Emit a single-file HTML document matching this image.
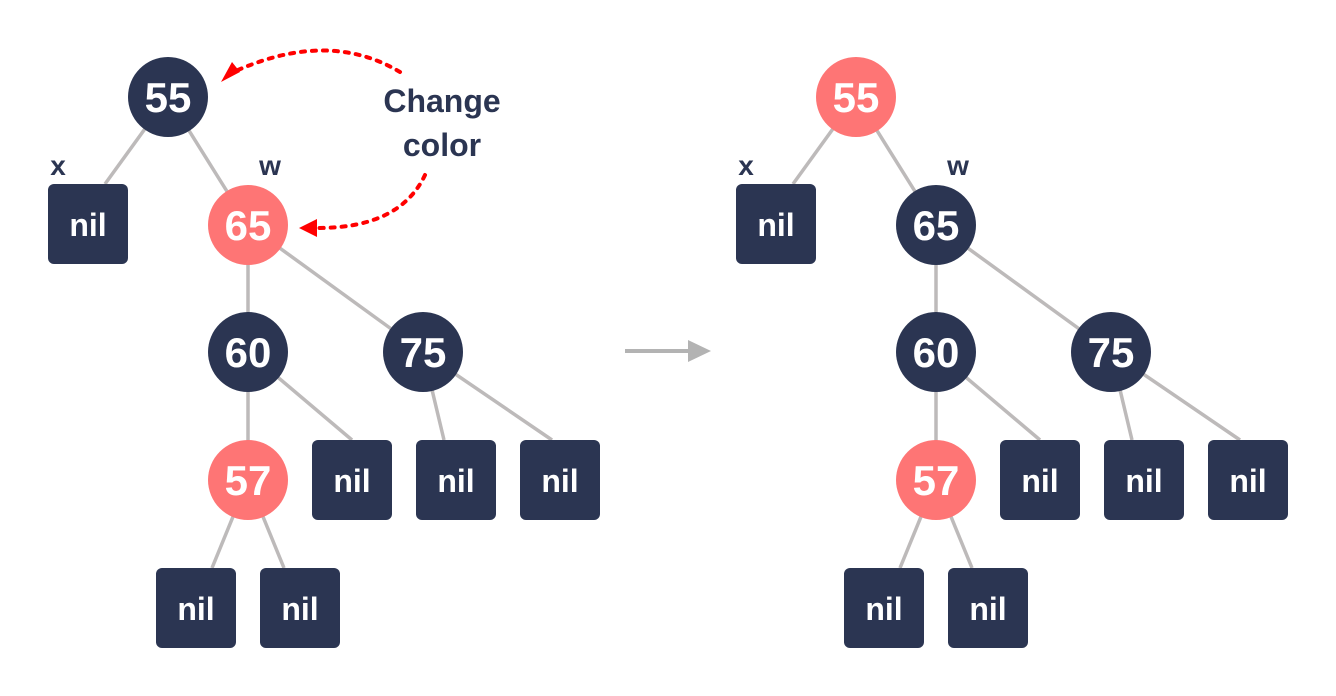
<!DOCTYPE html>
<html><head><style>body{margin:0;background:#fff}svg{display:block}</style></head><body>
<svg width="1336" height="696" viewBox="0 0 1336 696" xmlns="http://www.w3.org/2000/svg" font-family="'Liberation Sans',sans-serif" font-weight="bold">
<defs>
<g id="tree">
<g stroke="#bdbaba" stroke-width="3.5" fill="none">
<line x1="168" y1="97" x2="105" y2="184"/>
<line x1="168" y1="97" x2="248" y2="225"/>
<line x1="248" y1="225" x2="248" y2="352"/>
<line x1="248" y1="225" x2="423" y2="352"/>
<line x1="248" y1="352" x2="248" y2="480"/>
<line x1="248" y1="352" x2="352" y2="440"/>
<line x1="423" y1="352" x2="444" y2="440"/>
<line x1="423" y1="352" x2="552" y2="440"/>
<line x1="248" y1="480" x2="212" y2="568"/>
<line x1="248" y1="480" x2="284" y2="568"/>
</g>
<g fill="#2b3552">
<rect x="48" y="184" width="80" height="80" rx="6"/>
<rect x="312" y="440" width="80" height="80" rx="6"/>
<rect x="416" y="440" width="80" height="80" rx="6"/>
<rect x="520" y="440" width="80" height="80" rx="6"/>
<rect x="156" y="568" width="80" height="80" rx="6"/>
<rect x="260" y="568" width="80" height="80" rx="6"/>
<circle cx="248" cy="352" r="40"/>
<circle cx="423" cy="352" r="40"/>
</g>
<circle cx="248" cy="480" r="40" fill="#fe7575"/>
<g fill="#fff" font-size="32" text-anchor="middle">
<text x="88" y="236">nil</text><text x="352" y="492">nil</text><text x="456" y="492">nil</text><text x="560" y="492">nil</text><text x="196" y="620">nil</text><text x="300" y="620">nil</text>
</g>
<g fill="#fff" font-size="42" text-anchor="middle">
<text x="248" y="367">60</text><text x="423" y="367">75</text><text x="248" y="495">57</text>
</g>
<g fill="#2b3552" font-size="28" text-anchor="middle">
<text x="58" y="175">x</text><text x="270" y="175">w</text>
</g>
</g>
</defs>
<use href="#tree"/>
<circle cx="168" cy="97" r="40" fill="#2b3552"/>
<circle cx="248" cy="225" r="40" fill="#fe7575"/>
<g fill="#fff" font-size="42" text-anchor="middle"><text x="168" y="112">55</text><text x="248" y="240">65</text></g>
<g transform="translate(688,0)">
<use href="#tree"/>
<circle cx="168" cy="97" r="40" fill="#fe7575"/>
<circle cx="248" cy="225" r="40" fill="#2b3552"/>
<g fill="#fff" font-size="42" text-anchor="middle"><text x="168" y="112">55</text><text x="248" y="240">65</text></g>
</g>
<g fill="#2b3552" font-size="32" text-anchor="middle"><text x="442" y="112">Change</text><text x="442" y="156">color</text></g>
<g stroke="#f00" stroke-width="4" stroke-dasharray="4,7" fill="none" stroke-linecap="round">
<path d="M400 72 Q330 30 238 70"/>
<path d="M425 175 Q400 228 318 228"/>
</g>
<g fill="#f00">
<polygon points="221,82 240,72 232,62"/>
<polygon points="299,228 317,219 317,237"/>
</g>
<line x1="625" y1="351" x2="690" y2="351" stroke="#b3b3b3" stroke-width="4"/>
<polygon points="711,351 688,340 688,362" fill="#b3b3b3"/>
</svg>
</body></html>
